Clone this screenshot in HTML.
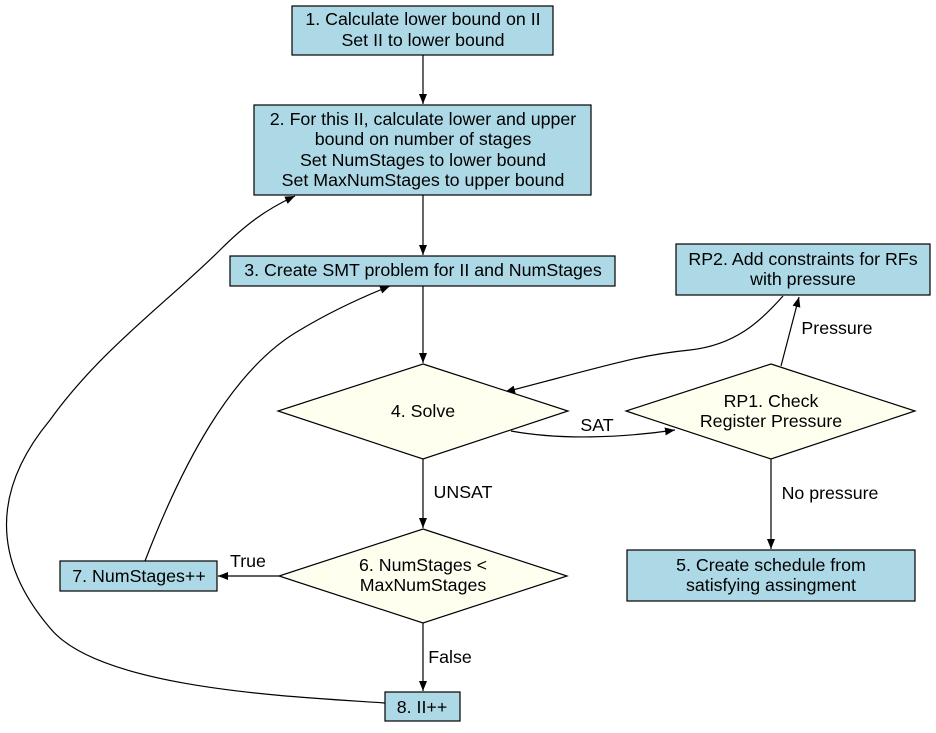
<!DOCTYPE html>
<html><head><meta charset="utf-8"><style>
html,body{margin:0;padding:0;background:#fff;}
svg text{font-family:"Liberation Sans",Arial,sans-serif;font-size:17.8px;fill:#000;}
</style></head><body>
<svg width="936" height="728" viewBox="0 0 936 728" xmlns="http://www.w3.org/2000/svg">
<defs><marker id="a" markerWidth="10" markerHeight="8" refX="10" refY="4" orient="auto" markerUnits="userSpaceOnUse"><path d="M0,0 L10,4 L0,8 z" fill="#000"/></marker></defs>
<g fill="none" stroke="#000" stroke-width="1.2">
<path d="M423,55 L423,104" marker-end="url(#a)"/>
<path d="M423,195 L423,255" marker-end="url(#a)"/>
<path d="M423,286 L423,363" marker-end="url(#a)"/>
<path d="M511,431 C560,440 620,438 675,430" marker-end="url(#a)"/>
<path d="M781,366 L799,297" marker-end="url(#a)"/>
<path d="M783,296 C760,322 735,345 690,350 C640,355 620,362 505,392" marker-end="url(#a)"/>
<path d="M771,459 L771,549" marker-end="url(#a)"/>
<path d="M423,459 L423,528" marker-end="url(#a)"/>
<path d="M279,576 L218,576" marker-end="url(#a)"/>
<path d="M423,623 L423,691" marker-end="url(#a)"/>
<path d="M145,561 C180,470 230,370 300,330 C330,312 360,298 390,286" marker-end="url(#a)"/>
<path d="M385,703 C300,697 100,690 50,628 C-8,560 -8,490 50,420 C100,350 170,300 220,250 C245,225 265,210 295,196" marker-end="url(#a)"/>
</g>
<g stroke="#000" stroke-width="1.2">
<rect x="292" y="6" width="261" height="49" fill="#add8e6"/>
<rect x="254" y="105" width="337" height="90" fill="#add8e6"/>
<rect x="230" y="256" width="385" height="30" fill="#add8e6"/>
<rect x="676" y="244" width="254" height="51" fill="#add8e6"/>
<rect x="627" y="550" width="288" height="51" fill="#add8e6"/>
<rect x="60" y="561" width="157" height="30" fill="#add8e6"/>
<rect x="385" y="692" width="75" height="29" fill="#add8e6"/>
<polygon points="423,364 568,411 423,459 278,411" fill="#fffff0"/>
<polygon points="771,364 915,411 771,459 626,411" fill="#fffff0"/>
<polygon points="423,529 567,576 423,623 279,576" fill="#fffff0"/>
</g>
<g text-anchor="middle">
<text x="423" y="25">1. Calculate lower bound on II</text>
<text x="423" y="46">Set II to lower bound</text>
<text x="423" y="125">2. For this II, calculate lower and upper</text>
<text x="423" y="145">bound on number of stages</text>
<text x="423" y="166">Set NumStages to lower bound</text>
<text x="423" y="186">Set MaxNumStages to upper bound</text>
<text x="423" y="276">3. Create SMT problem for II and NumStages</text>
<text x="803" y="265">RP2. Add constraints for RFs</text>
<text x="803" y="285">with pressure</text>
<text x="423" y="417">4. Solve</text>
<text x="771" y="407">RP1. Check</text>
<text x="771" y="427">Register Pressure</text>
<text x="771" y="571">5. Create schedule from</text>
<text x="771" y="591">satisfying assingment</text>
<text x="423" y="571">6. NumStages &lt;</text>
<text x="423" y="591">MaxNumStages</text>
<text x="139" y="582">7. NumStages++</text>
<text x="422" y="713">8. II++</text>
<text x="597" y="431">SAT</text>
<text x="837" y="334">Pressure</text>
<text x="830" y="499">No pressure</text>
<text x="463" y="498">UNSAT</text>
<text x="248" y="567">True</text>
<text x="450" y="663">False</text>
</g>
</svg>
</body></html>
